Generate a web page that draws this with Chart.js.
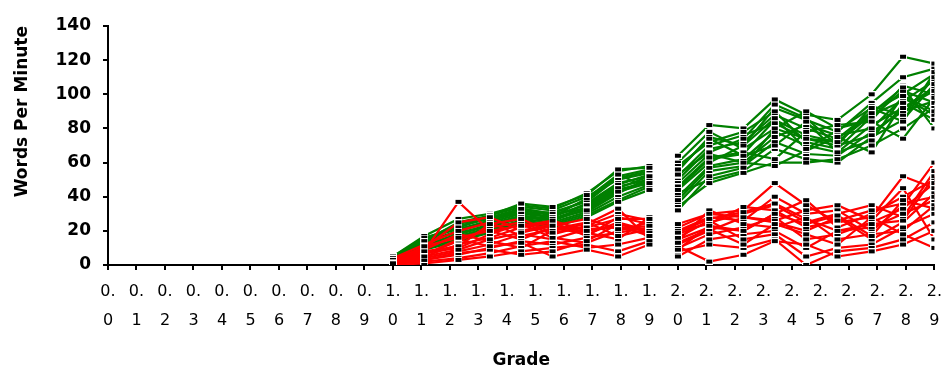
<!DOCTYPE html>
<html>
<head>
<meta charset="utf-8">
<script src="https://cdn.jsdelivr.net/npm/chart.js@4.4.1/dist/chart.umd.min.js"></script>
<style>
  html, body { margin: 0; padding: 0; background: #fff; }
  #wrap { width: 950px; height: 369px; }
</style>
</head>
<body>
<div id="wrap"><canvas id="wpmChart"></canvas></div>
<script>
const gradeTicks = ['0.0','0.1','0.2','0.3','0.4','0.5','0.6','0.7','0.8','0.9',
                    '1.0','1.1','1.2','1.3','1.4','1.5','1.6','1.7','1.8','1.9',
                    '2.0','2.1','2.2','2.3','2.4','2.5','2.6','2.7','2.8','2.9'];
const yTicks = [0, 20, 40, 60, 80, 100, 120, 140];

// measurement occasions (grade) for each school year
const occasions1 = [1.0, 1.11, 1.23, 1.34, 1.45, 1.56, 1.68, 1.79, 1.9];
const occasions2 = [2.0, 2.11, 2.23, 2.34, 2.45, 2.56, 2.68, 2.79, 2.9];

// grade 1 students
const green1 = [
  [5, 17, 27, 30, 35, 33, 42, 55, 58],
  [4, 15, 24, 28, 33, 30, 38, 52, 56],
  [3, 14, 22, 29, 34, 32, 40, 50, 54],
  [5, 16, 21, 26, 31, 28, 36, 48, 52],
  [2, 13, 20, 25, 30, 31, 37, 51, 55],
  [4, 12, 18, 24, 29, 27, 34, 46, 50],
  [3, 15, 23, 27, 32, 29, 35, 47, 53],
  [1, 11, 17, 22, 28, 26, 33, 44, 49],
  [4, 14, 19, 23, 27, 25, 31, 42, 51],
  [2, 12, 16, 21, 26, 24, 30, 40, 47],
  [5, 13, 20, 26, 33, 30, 33, 45, 52],
  [3, 10, 15, 20, 25, 23, 29, 38, 46],
  [4, 16, 22, 28, 30, 28, 39, 53, 45],
  [2, 11, 18, 23, 28, 27, 32, 43, 48],
  [3, 14, 25, 29, 36, 34, 41, 56, 57],
  [1, 9, 14, 19, 24, 22, 28, 37, 44]
];
const red1 = [
  [3, 8, 37, 20, 15, 22, 18, 25, 20],
  [2, 6, 14, 22, 25, 18, 23, 30, 26],
  [4, 10, 25, 28, 20, 24, 19, 15, 28],
  [1, 4, 8, 12, 18, 15, 21, 22, 18],
  [2, 5, 12, 16, 22, 25, 17, 28, 24],
  [0, 3, 6, 10, 14, 12, 16, 19, 22],
  [3, 9, 18, 14, 10, 20, 24, 33, 15],
  [1, 2, 4, 7, 11, 14, 10, 12, 16],
  [2, 7, 10, 18, 24, 16, 13, 20, 25],
  [0, 1, 3, 5, 8, 10, 12, 8, 14],
  [4, 12, 20, 25, 17, 21, 25, 17, 21],
  [1, 3, 7, 9, 6, 8, 14, 24, 19],
  [2, 6, 15, 11, 13, 5, 9, 5, 12],
  [3, 8, 11, 24, 27, 19, 22, 27, 27],
  [2, 11, 16, 20, 23, 26, 20, 23, 17],
  [1, 5, 9, 15, 19, 23, 27, 21, 23]
];

// grade 2 students
const green2 = [
  [64, 82, 80, 97, 88, 85, 100, 122, 118],
  [55, 75, 70, 92, 85, 78, 95, 110, 115],
  [50, 68, 72, 88, 80, 74, 90, 100, 112],
  [45, 62, 65, 85, 76, 72, 88, 96, 108],
  [60, 78, 68, 80, 90, 80, 85, 105, 100],
  [40, 58, 62, 78, 70, 66, 82, 92, 104],
  [52, 70, 76, 83, 74, 70, 93, 88, 110],
  [36, 55, 58, 72, 65, 64, 78, 90, 96],
  [48, 65, 60, 75, 82, 76, 80, 98, 88],
  [42, 50, 55, 68, 62, 60, 75, 85, 106],
  [58, 72, 78, 90, 72, 68, 87, 102, 95],
  [34, 48, 54, 60, 60, 62, 70, 80, 92],
  [46, 63, 66, 62, 78, 82, 84, 74, 98],
  [38, 57, 60, 58, 67, 75, 66, 95, 85],
  [53, 66, 74, 94, 86, 70, 76, 92, 102],
  [44, 60, 70, 86, 68, 79, 92, 84, 113],
  [56, 74, 64, 70, 84, 66, 73, 99, 90],
  [32, 52, 57, 80, 74, 72, 89, 104, 80]
];
const red2 = [
  [22, 30, 32, 48, 35, 25, 28, 52, 45],
  [20, 28, 26, 40, 30, 32, 20, 35, 60],
  [18, 25, 30, 35, 25, 30, 35, 28, 55],
  [15, 22, 20, 30, 38, 22, 30, 40, 50],
  [12, 20, 28, 25, 20, 28, 15, 25, 42],
  [10, 18, 22, 28, 15, 18, 25, 33, 48],
  [5, 15, 18, 20, 10, 20, 22, 30, 38],
  [14, 32, 24, 22, 28, 15, 18, 20, 35],
  [16, 26, 15, 18, 5, 10, 12, 22, 30],
  [8, 12, 10, 15, 0, 8, 10, 15, 25],
  [20, 24, 34, 32, 22, 26, 32, 36, 40],
  [11, 2, 6, 14, 12, 5, 8, 12, 20],
  [24, 30, 28, 26, 32, 35, 26, 45, 15],
  [13, 21, 12, 24, 18, 12, 28, 18, 10],
  [19, 27, 31, 36, 27, 20, 24, 26, 52],
  [9, 23, 20, 30, 24, 29, 17, 38, 33]
];

const GREEN = '#008000';
const RED = '#ff0000';
const FONT = 'DejaVu Sans, Verdana, sans-serif';

// small black marker with a white edge
const marker = document.createElement('canvas');
marker.width = 8; marker.height = 6;
const mctx = marker.getContext('2d');
mctx.fillStyle = '#fff'; mctx.fillRect(0, 0, 8, 6);
mctx.fillStyle = '#000'; mctx.fillRect(1, 1, 6, 4);

function toPoints(xs, row) {
  return xs.map((x, i) => ({ x: x, y: row[i] }));
}

const datasets = [];
const markerPts = [];

function addGroup(rows, xs, color, order) {
  rows.forEach(row => {
    const pts = toPoints(xs, row);
    datasets.push({
      data: pts,
      borderColor: color,
      borderWidth: 2.2,
      pointRadius: 0,
      tension: 0,
      order: order
    });
    pts.forEach(p => markerPts.push(p));
  });
}

addGroup(green1, occasions1, GREEN, 2);
addGroup(green2, occasions2, GREEN, 2);
addGroup(red1, occasions1, RED, 1);
addGroup(red2, occasions2, RED, 1);

datasets.push({
  data: markerPts,
  showLine: false,
  pointStyle: marker,
  pointRadius: 4,
  order: 0
});

const ctx = document.getElementById('wpmChart').getContext('2d');
new Chart(ctx, {
  type: 'line',
  data: { datasets: datasets },
  options: {
    responsive: true,
    maintainAspectRatio: false,
    animation: false,
    layout: { padding: { top: 26, right: 13, left: 0, bottom: 0 } },
    plugins: {
      legend: { display: false },
      tooltip: { enabled: false }
    },
    scales: {
      x: {
        type: 'linear',
        min: 0,
        max: 2.9,
        afterBuildTicks: s => { s.ticks = gradeTicks.map(t => ({ value: parseFloat(t) })); },
        afterFit: s => { s.height = 104; },
        border: { color: '#000', width: 2 },
        grid: { drawOnChartArea: false, color: '#000', lineWidth: 2, tickLength: 5 },
        ticks: {
          autoSkip: false,
          maxRotation: 0,
          padding: 8,
          color: '#000',
          font: { family: FONT, size: 16, lineHeight: 1.78 },
          callback: (v, i) => {
            const t = gradeTicks[i];
            return [t.slice(0, 2), t.slice(2)];
          }
        },
        title: {
          display: true,
          text: 'Grade',
          color: '#000',
          padding: { top: 0, bottom: 0 },
          font: { family: FONT, size: 17, weight: 'bold', lineHeight: 1.0 }
        }
      },
      y: {
        min: 0,
        max: 140,
        afterBuildTicks: s => { s.ticks = yTicks.map(v => ({ value: v })); },
        afterFit: s => { s.width = 108; },
        border: { color: '#000', width: 2 },
        grid: { drawOnChartArea: false, color: '#000', lineWidth: 2, tickLength: 5 },
        ticks: {
          padding: 12,
          color: '#000',
          font: { family: FONT, size: 17, weight: 'bold' }
        },
        title: {
          display: true,
          text: 'Words Per Minute',
          align: 'end',
          color: '#000',
          padding: { top: 12, bottom: 0 },
          font: { family: FONT, size: 17, weight: 'bold' }
        }
      }
    }
  }
});
</script>
</body>
</html>
